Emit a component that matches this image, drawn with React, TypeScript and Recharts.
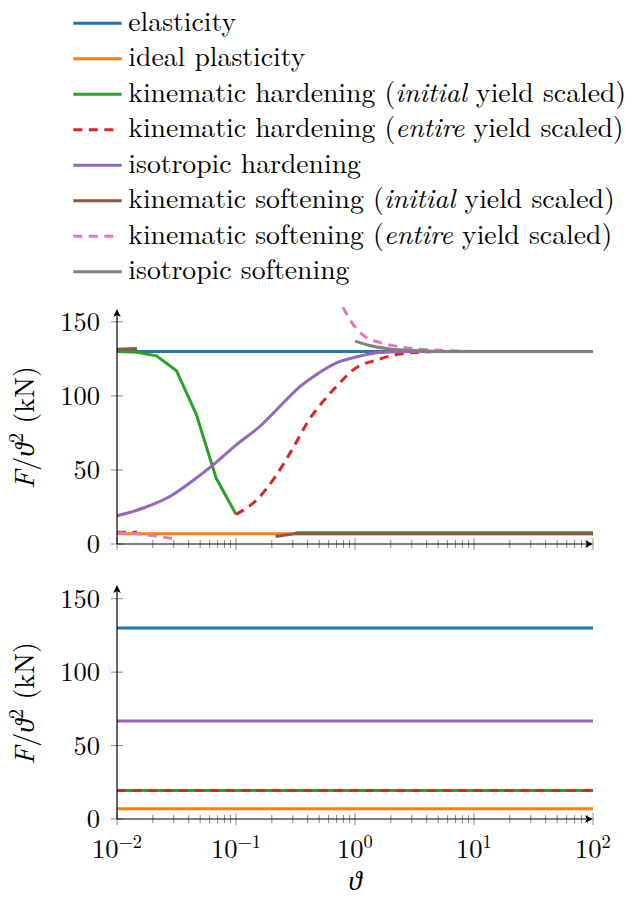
import React from "react";
import { LineChart, Line, XAxis, YAxis } from "recharts";

type P = { x: number; y: number | null };

// ---------- axis ticks ----------
const DECADES = [0.01, 0.1, 1, 10, 100];
const DECADE_EXPONENTS = ["−2", "−1", "0", "1", "2"];
const MINOR_MULTIPLIERS = [2, 3, 4, 5, 6, 7, 8, 9];
const Y_TICKS = [0, 50, 100, 150];

// ---------- series meta ----------
const SERIES_NAMES = [
  "elasticity",
  "ideal plasticity",
  "kinematic hardening (*initial* yield scaled)",
  "kinematic hardening (*entire* yield scaled)",
  "isotropic hardening",
  "kinematic softening (*initial* yield scaled)",
  "kinematic softening (*entire* yield scaled)",
  "isotropic softening",
];
const SERIES_COLORS = ["#1f77b4", "#ff7f0e", "#2ca02c", "#d62728", "#9467bd", "#8c564b", "#e377c2", "#7f7f7f"];
const SERIES_DASHED = [false, false, false, true, false, false, true, false];

// ---------- top panel data ----------
const topElasticity: P[] = [{ x: 0.01, y: 130 }, { x: 100, y: 130 }];
const topIdealPlasticity: P[] = [{ x: 0.01, y: 7 }, { x: 100, y: 7 }];
const topKinHardInitial: P[] = [
  { x: 0.01, y: 130 }, { x: 0.0147, y: 129.5 }, { x: 0.0215, y: 127 }, { x: 0.0316, y: 117 },
  { x: 0.0464, y: 87.5 }, { x: 0.0681, y: 44.5 }, { x: 0.1, y: 20 },
  { x: 0.2, y: null },
  { x: 0.316, y: 7.6 }, { x: 100, y: 7.6 },
];
const topKinHardEntire: P[] = [
  { x: 0.01, y: 8 }, { x: 0.0147, y: 8 },
  { x: 0.05, y: null },
  { x: 0.1, y: 20 }, { x: 0.15, y: 30 }, { x: 0.215, y: 45.7 }, { x: 0.3, y: 64.5 }, { x: 0.42, y: 85 },
  { x: 0.5, y: 93 }, { x: 0.62, y: 102 }, { x: 0.75, y: 109 }, { x: 0.93, y: 116.5 }, { x: 1.1, y: 120.5 },
  { x: 1.42, y: 123.5 }, { x: 2.23, y: 127.9 }, { x: 3.5, y: 129.5 }, { x: 6, y: 130 }, { x: 100, y: 130 },
];
const topIsoHard: P[] = [
  { x: 0.01, y: 19 }, { x: 0.0167, y: 24.3 }, { x: 0.028, y: 32.2 }, { x: 0.0438, y: 43 }, { x: 0.0646, y: 53.6 },
  { x: 0.1, y: 66.8 }, { x: 0.159, y: 79.5 }, { x: 0.234, y: 93 }, { x: 0.323, y: 104.3 }, { x: 0.475, y: 114.4 },
  { x: 0.698, y: 122.3 }, { x: 1.09, y: 126.8 }, { x: 1.62, y: 129.3 }, { x: 3, y: 130 }, { x: 100, y: 130 },
];
const topKinSoftInitial: P[] = [
  { x: 0.01, y: 131.5 }, { x: 0.0147, y: 132 },
  { x: 0.05, y: null },
  { x: 0.215, y: 5 }, { x: 0.316, y: 7 }, { x: 100, y: 7 },
];
const topKinSoftEntire: P[] = [
  { x: 0.01, y: 7.4 }, { x: 0.0147, y: 6.9 }, { x: 0.0215, y: 5.3 }, { x: 0.0316, y: 3.2 },
  { x: 0.1, y: null },
  { x: 0.79, y: 160 }, { x: 0.97, y: 148 }, { x: 1.17, y: 141 }, { x: 1.62, y: 136 }, { x: 2.23, y: 133.5 },
  { x: 3.3, y: 131.7 }, { x: 5.9, y: 130.6 }, { x: 10, y: 130 }, { x: 100, y: 130 },
];
const topIsoSoft: P[] = [
  { x: 1, y: 137 }, { x: 1.42, y: 133.5 }, { x: 1.96, y: 131.7 }, { x: 3.1, y: 130.6 }, { x: 5, y: 130 }, { x: 100, y: 130 },
];

// ---------- bottom panel data ----------
const botElasticity: P[] = [{ x: 0.01, y: 130 }, { x: 100, y: 130 }];
const botIdealPlasticity: P[] = [{ x: 0.01, y: 7 }, { x: 100, y: 7 }];
const botKinHardInitial: P[] = [{ x: 0.01, y: 19.4 }, { x: 100, y: 19.4 }];
const botKinHardEntire: P[] = [{ x: 0.01, y: 19.4 }, { x: 100, y: 19.4 }];
const botIsoHard: P[] = [{ x: 0.01, y: 66.7 }, { x: 100, y: 66.7 }];

const TOP_SERIES: (P[] | null)[] = [
  topElasticity, topIdealPlasticity, topKinHardInitial, topKinHardEntire,
  topIsoHard, topKinSoftInitial, topKinSoftEntire, topIsoSoft,
];
const BOT_SERIES: (P[] | null)[] = [
  botElasticity, botIdealPlasticity, botKinHardInitial, botKinHardEntire, botIsoHard, null, null, null,
];
const SMOOTH = [false, false, false, true, true, false, true, true];

// ---------- layout ----------
const W = 633;
const PLOT_LEFT = 117;
const PLOT_RIGHT = 593;
const TOP_DIV = 287;
const TOP_H = 290;
const TOP_XAXIS_H = 33;
const BOT_DIV = 564;
const BOT_H = 334;
const BOT_XAXIS_H = 79;
const MARGIN_TOP = 20;
const FONT = "'Latin Modern Roman', 'Liberation Serif', serif";
const DASH = "9 6.5";
const LW = 3;

const X_TICKS: number[] = [];
DECADES.forEach((d, i) => {
  X_TICKS.push(d);
  if (i < DECADES.length - 1) MINOR_MULTIPLIERS.forEach((m) => X_TICKS.push(+(m * d).toPrecision(6)));
});

const isDecade = (v: number) => DECADES.some((d) => Math.abs(d - v) / d < 1e-9);
const txt = (size: number, extra: any = {}) => ({ fontFamily: FONT, fontSize: size, ...extra });

function XTick(props: any) {
  const { x, y, payload, showLabels } = props;
  const v = payload.value;
  const major = isDecade(v);
  const r = major ? 6 : 4;
  const idx = DECADES.findIndex((d) => Math.abs(d - v) / d < 1e-9);
  return (
    <g>
      <line x1={x} x2={x} y1={y - r} y2={y + r} stroke="#8a8a8a" strokeWidth={1} />
      {showLabels && major && (
        <text x={x} y={y + 39} textAnchor="middle" style={txt(26.5)} fill="#000">
          10
          <tspan dy={-10} style={txt(18.5)}>{DECADE_EXPONENTS[idx]}</tspan>
        </text>
      )}
    </g>
  );
}

function YTick(props: any) {
  const { x, y, payload } = props;
  return (
    <g>
      <line x1={x - 6} x2={x + 6} y1={y} y2={y} stroke="#8a8a8a" strokeWidth={1} />
      <text x={x - 17} y={y + 9} textAnchor="end" style={txt(26.5)} fill="#000">
        {payload.value}
      </text>
    </g>
  );
}

function Panel({ top, height, xAxisHeight, series, showLabels }: any) {
  return (
    <div style={{ position: "absolute", left: 0, top, width: W, height }}>
      <LineChart width={W} height={height} margin={{ top: MARGIN_TOP, right: W - PLOT_RIGHT, left: 0, bottom: 0 }}>
        <XAxis
          dataKey="x"
          type="number"
          scale="log"
          domain={[0.01, 100]}
          ticks={X_TICKS}
          interval={0}
          allowDataOverflow
          axisLine={false}
          tickLine={false}
          tickSize={0}
          tickMargin={0}
          height={xAxisHeight}
          tick={(p: any) => <XTick {...p} showLabels={showLabels} />}
        />
        <YAxis
          type="number"
          domain={[0, 160]}
          ticks={Y_TICKS}
          interval={0}
          allowDataOverflow
          axisLine={false}
          tickLine={false}
          tickSize={0}
          tickMargin={0}
          width={PLOT_LEFT}
          tick={(p: any) => <YTick {...p} />}
        />
        {series.map((d: P[] | null, i: number) =>
          d ? (
            <Line
              key={i}
              data={d}
              dataKey="y"
              type={SMOOTH[i] ? "monotone" : "linear"}
              stroke={SERIES_COLORS[i]}
              strokeWidth={LW}
              strokeDasharray={SERIES_DASHED[i] ? DASH : undefined}
              dot={false}
              activeDot={false}
              connectNulls={false}
              isAnimationActive={false}
            />
          ) : null
        )}
      </LineChart>
    </div>
  );
}

function renderName(name: string) {
  return name.split("*").map((part, i) =>
    i % 2 === 1 ? (
      <tspan key={i} style={{ fontStyle: "italic" }}>{part}</tspan>
    ) : (
      <tspan key={i}>{part}</tspan>
    )
  );
}

function Legend() {
  return (
    <svg width={W} height={290} style={{ position: "absolute", left: 0, top: 0 }}>
      {SERIES_NAMES.map((n, i) => {
        const y = 23.3 + i * 35.5;
        return (
          <g key={i}>
            <line
              x1={73.3}
              x2={SERIES_DASHED[i] ? 117 : 121.7}
              y1={y}
              y2={y}
              stroke={SERIES_COLORS[i]}
              strokeWidth={LW}
              strokeDasharray={SERIES_DASHED[i] ? DASH : undefined}
            />
            <text x={128.3} y={y + 7.5} style={txt(27.7)} fill="#000">
              {renderName(n)}
            </text>
          </g>
        );
      })}
    </svg>
  );
}

function YLabel({ cy }: { cy: number }) {
  return (
    <text transform={`translate(34, ${cy}) rotate(-90)`} textAnchor="middle" style={txt(28)} fill="#000">
      <tspan style={{ fontStyle: "italic" }}>F</tspan>
      <tspan>/</tspan>
      <tspan style={{ fontStyle: "italic" }}>ϑ</tspan>
      <tspan dy={-11} style={{ fontSize: 20 }}>2</tspan>
      <tspan dy={11}> (kN)</tspan>
    </text>
  );
}

function Overlay() {
  const topPlotTop = TOP_DIV + MARGIN_TOP;
  const topPlotBottom = TOP_DIV + TOP_H - TOP_XAXIS_H;
  const botPlotTop = BOT_DIV + MARGIN_TOP;
  const botPlotBottom = BOT_DIV + BOT_H - BOT_XAXIS_H;
  const upArrow = (tipY: number) =>
    `M${PLOT_LEFT},${tipY} L${PLOT_LEFT - 3.8},${tipY + 8} L${PLOT_LEFT},${tipY + 6} L${PLOT_LEFT + 3.8},${tipY + 8} Z`;
  const rightArrow = (yy: number) =>
    `M${PLOT_RIGHT},${yy} L${PLOT_RIGHT - 8},${yy - 3.8} L${PLOT_RIGHT - 6},${yy} L${PLOT_RIGHT - 8},${yy + 3.8} Z`;
  return (
    <svg width={W} height={898} style={{ position: "absolute", left: 0, top: 0, pointerEvents: "none" }}>
      {[
        [topPlotTop + 2, topPlotBottom],
        [botPlotTop + 1, botPlotBottom],
      ].map(([t, b], i) => (
        <g key={i}>
          <line x1={PLOT_LEFT} x2={PLOT_LEFT} y1={b} y2={t + 3} stroke="#000" strokeWidth={1.2} />
          <path d={upArrow(t)} fill="#000" />
          <line x1={PLOT_LEFT} x2={PLOT_RIGHT - 3} y1={b} y2={b} stroke="#000" strokeWidth={1.2} />
          <path d={rightArrow(b)} fill="#000" />
        </g>
      ))}
      <YLabel cy={(topPlotTop + topPlotBottom) / 2 + 2} />
      <YLabel cy={(botPlotTop + botPlotBottom) / 2 + 2} />
      <text x={(PLOT_LEFT + PLOT_RIGHT) / 2} y={890} textAnchor="middle" style={txt(27, { fontStyle: "italic" })} fill="#000">
        ϑ
      </text>
    </svg>
  );
}

export default function App() {
  return (
    <div style={{ position: "absolute", left: 0, top: 0, width: W, height: 898, background: "#fff" }}>
      <Legend />
      <Panel top={TOP_DIV} height={TOP_H} xAxisHeight={TOP_XAXIS_H} series={TOP_SERIES} showLabels={false} />
      <Panel top={BOT_DIV} height={BOT_H} xAxisHeight={BOT_XAXIS_H} series={BOT_SERIES} showLabels={true} />
      <Overlay />
    </div>
  );
}
